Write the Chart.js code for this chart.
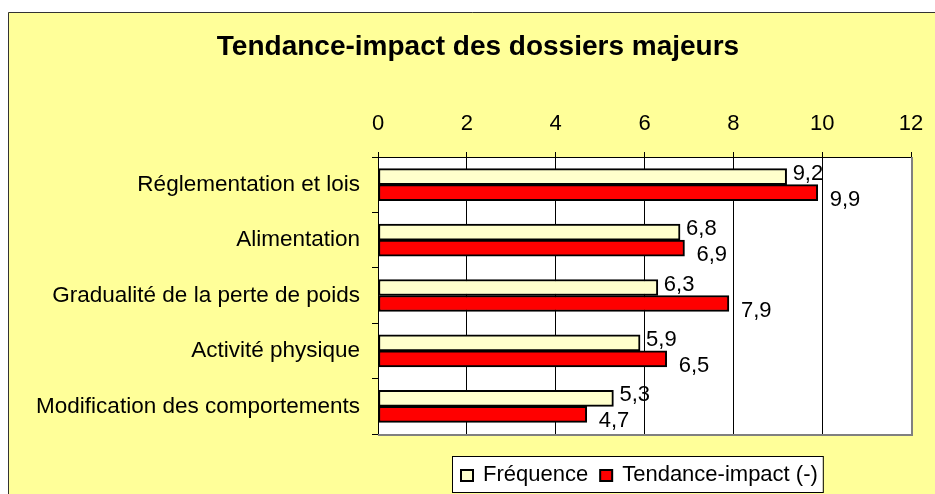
<!DOCTYPE html>
<html>
<head>
<meta charset="utf-8">
<script src="https://cdn.jsdelivr.net/npm/chart.js@4/dist/chart.umd.min.js"></script>
<style>
html,body{margin:0;padding:0;background:#fff;}
#wrap{position:relative;width:935px;height:494px;}
canvas{display:block;}
</style>
</head>
<body>
<div id="wrap"><canvas id="c" width="935" height="494"></canvas></div>
<script>
const chartTitle = "Tendance-impact des dossiers majeurs";
const categories = ["Réglementation et lois", "Alimentation", "Gradualité de la perte de poids", "Activité physique", "Modification des comportements"];
const seriesNames = ["Fréquence", "Tendance-impact (-)"];
const frequence = [9.2, 6.8, 6.3, 5.9, 5.3];
const tendanceImpact = [9.9, 6.9, 7.9, 6.5, 4.7];
const xTicks = [0, 2, 4, 6, 8, 10, 12];

const FONT = "'Liberation Sans', Arial, Helvetica, sans-serif";
const fmt = v => String(v).replace('.', ',');

const framePlugin = {
  id: 'frame',
  beforeDraw(chart) {
    const ctx = chart.ctx;
    const a = chart.chartArea;
    ctx.save();
    ctx.fillStyle = '#FFFF99';
    ctx.fillRect(8, 12, chart.width, chart.height);
    ctx.strokeStyle = '#333';
    ctx.lineWidth = 1;
    ctx.beginPath();
    ctx.moveTo(8.5, chart.height + 5);
    ctx.lineTo(8.5, 12.5);
    ctx.lineTo(chart.width + 5, 12.5);
    ctx.stroke();
    ctx.fillStyle = '#FFFFFF';
    ctx.fillRect(a.left, a.top, a.right - a.left, a.bottom - a.top);
    ctx.fillStyle = '#000';
    ctx.font = "bold 28px " + FONT;
    ctx.textAlign = 'center';
    ctx.textBaseline = 'alphabetic';
    ctx.fillText(chartTitle, 478, 55);
    ctx.restore();
  },
  afterDraw(chart) {
    const ctx = chart.ctx;
    const a = chart.chartArea;
    ctx.save();
    ctx.strokeStyle = '#808080';
    ctx.lineWidth = 2;
    ctx.beginPath();
    ctx.moveTo(a.right + 1, a.top);
    ctx.lineTo(a.right + 1, a.bottom + 1);
    ctx.lineTo(a.left, a.bottom + 1);
    ctx.stroke();
    // legend
    ctx.font = "22px " + FONT;
    ctx.textBaseline = 'alphabetic';
    ctx.textAlign = 'left';
    const boxL = 452, boxT = 456, boxB = 492;
    let x = boxL + 8;
    const items = chart.data.datasets.map(d => ({label: d.label, color: d.backgroundColor}));
    const pos = [];
    items.forEach((it, i) => {
      pos.push(x);
      const w = ctx.measureText(it.label).width;
      x += 23 + w + (i < items.length - 1 ? 11 : 5);
    });
    const boxR = x;
    ctx.fillStyle = '#fff';
    ctx.fillRect(boxL, boxT, boxR - boxL, boxB - boxT);
    ctx.strokeStyle = '#000';
    ctx.lineWidth = 1;
    ctx.strokeRect(boxL + 0.5, boxT + 0.5, boxR - boxL, boxB - boxT);
    items.forEach((it, i) => {
      ctx.fillStyle = it.color;
      ctx.fillRect(pos[i] + 1, 470, 12, 11);
      ctx.lineWidth = 2;
      ctx.strokeStyle = '#000';
      ctx.strokeRect(pos[i] + 1, 470, 12, 11);
      ctx.fillStyle = '#000';
      ctx.fillText(it.label, pos[i] + 23, 481);
    });
    ctx.restore();
  },
  afterDatasetsDraw(chart) {
    const ctx = chart.ctx;
    ctx.save();
    ctx.font = "22px " + FONT;
    ctx.fillStyle = '#000';
    ctx.textAlign = 'left';
    ctx.textBaseline = 'middle';
    const offs = [{dx: 6, dy: -3}, {dx: 12, dy: 7}];
    chart.data.datasets.forEach((ds, di) => {
      const meta = chart.getDatasetMeta(di);
      meta.data.forEach((el, i) => {
        ctx.fillText(fmt(ds.data[i]), el.x + offs[di].dx, el.y + offs[di].dy);
      });
    });
    ctx.restore();
  }
};

new Chart(document.getElementById('c'), {
  type: 'bar',
  data: {
    labels: categories,
    datasets: [
      {label: seriesNames[0], data: frequence, backgroundColor: '#FFFFCC', borderColor: '#000', borderWidth: 2, borderSkipped: false, barThickness: 16},
      {label: seriesNames[1], data: tendanceImpact, backgroundColor: '#FF0000', borderColor: '#000', borderWidth: 2, borderSkipped: false, barThickness: 16}
    ]
  },
  options: {
    indexAxis: 'y',
    responsive: false,
    animation: false,
    devicePixelRatio: 1,
    layout: {padding: {left: 0, top: 0, right: 24, bottom: 60}},
    plugins: {legend: {display: false}, title: {display: false}, tooltip: {enabled: false}},
    scales: {
      x: {
        position: 'top',
        min: xTicks[0], max: xTicks[xTicks.length - 1],
        afterFit(s) { s.height = 157; s.paddingLeft = 0; s.paddingRight = 0; },
        afterBuildTicks(s) { s.ticks = xTicks.map(v => ({value: v})); },
        ticks: {color: '#000', font: {family: FONT, size: 22}, padding: 15},
        grid: {color: '#000', lineWidth: 1, tickLength: 5, drawOnChartArea: true},
        border: {color: '#000', width: 1}
      },
      y: {
        afterFit(s) { s.width = 378; s.paddingTop = 0; s.paddingBottom = 0; },
        ticks: {color: '#000', font: {family: FONT, size: 22.5}, padding: 12},
        grid: {color: '#000', lineWidth: 1, tickLength: 6, offset: true, drawOnChartArea: false},
        border: {color: '#000', width: 1}
      }
    }
  },
  plugins: [framePlugin]
});
</script>
</body>
</html>
